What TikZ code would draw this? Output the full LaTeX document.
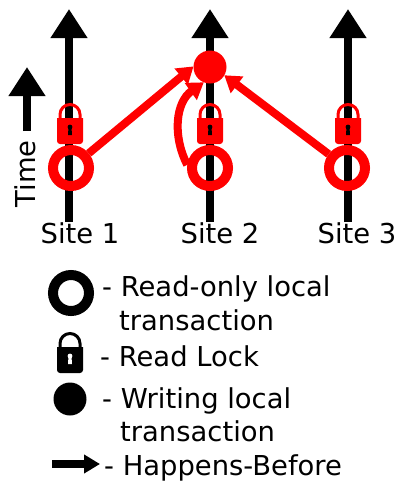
\documentclass[tikz,border=0pt]{standalone}
\usepackage{fontspec}
\setmainfont{DejaVu Sans}
\usetikzlibrary{arrows.meta}
\tikzset{
  axisline/.style={line width=7.5pt,draw=black,-{Triangle[length=29pt,width=35pt]}},
  ringnode/.style={circle,draw=#1,line width=10pt,minimum size=36pt,inner sep=0pt},
  dotnode/.style={circle,fill=#1,minimum size=33pt,inner sep=0pt,outer sep=0pt},
  happens/.style={line width=8pt,draw=red,-{Triangle[length=16pt,width=20pt]}},
  legendarrow/.style={line width=7.5pt,draw=black,-{Triangle[length=16pt,width=18pt]}},
  label/.style={anchor=base west,inner sep=0pt,font=\fontsize{27.4}{27.4}\selectfont},
  sitelabel/.style={anchor=base,inner sep=0pt,font=\fontsize{27.4}{27.4}\selectfont},
  padlock/.pic={
    \fill[pic actions] (-13,-4) -- (13,-4) [rounded corners=3pt] -- (13,22) -- (-13,22) [sharp corners] -- cycle;
    \draw[pic actions,fill=none,line width=3pt] (-10,-4) -- (-10,-7.5) arc[start angle=180,end angle=0,x radius=10,y radius=-10] -- (10,-4);
  },
  lockhole/.pic={
    \fill[pic actions] (0,5) circle[radius=2.4pt];
    \fill[pic actions] (-1.5,5) -- (1.5,5) -- (2,13) -- (-2,13) -- cycle;
  }
}
\begin{document}
\begin{tikzpicture}[x=1pt,y=-1pt]
\useasboundingbox (0,0) rectangle (399,483);
% time axes
\coordinate (s1b) at (69,222); \coordinate (s1t) at (69,9);
\coordinate (s2b) at (210,222); \coordinate (s2t) at (210,9);
\coordinate (s3b) at (348,222); \coordinate (s3t) at (348,9);
\coordinate (tb) at (27,131); \coordinate (tt) at (27,67);
\draw[axisline] (s1b) -- (s1t);
\draw[axisline] (s2b) -- (s2t);
\draw[axisline] (s3b) -- (s3t);
\draw[axisline] (tb) -- (tt);
% locks
\path (70,122) pic[red] {padlock} (70,122) pic[black] {lockhole};
\path (210,122) pic[red] {padlock} (210,122) pic[black] {lockhole};
\path (348,122) pic[red] {padlock} (348,122) pic[black] {lockhole};
\path (70,351) pic[black] {padlock} (70,351) pic[white] {lockhole};
% transactions
\node[ringnode=red] (r1) at (71,168) {};
\node[ringnode=red] (r2) at (210,168) {};
\node[ringnode=red] (r3) at (347,168) {};
\node[dotnode=red] (w) at (210,67) {};
% happens-before
\draw[happens] (r1) -- (w.178);
\draw[happens] (r2.172) .. controls (172,135) and (176,102) .. (w.248);
\draw[happens] (r3) -- (w.-30);
% labels
\node[sitelabel] (l1) at (80,243) {Site 1};
\node[sitelabel] (l2) at (220,243) {Site 2};
\node[sitelabel] (l3) at (357,243) {Site 3};
\node[anchor=base,inner sep=0pt,rotate=90,font=\fontsize{27.4}{27.4}\selectfont] (time) at (35,174) {Time};
% legend
\node[ringnode=black] (lr) at (71,293) {};
\node[dotnode=black] (lw) at (70,399) {};
\coordinate (la) at (52,464); \coordinate (lb) at (100,464);
\draw[legendarrow] (la) -- (lb);
\node[label] (t1) at (102,296) {- Read-only local};
\node[label] (t1b) at (119,330) {transaction};
\node[label] (t2) at (100,366) {- Read Lock};
\node[label] (t3) at (102,408) {- Writing local};
\node[label] (t3b) at (120,441) {transaction};
\node[label] (t4) at (104,475) {- Happens-Before};
\end{tikzpicture}
\end{document}
